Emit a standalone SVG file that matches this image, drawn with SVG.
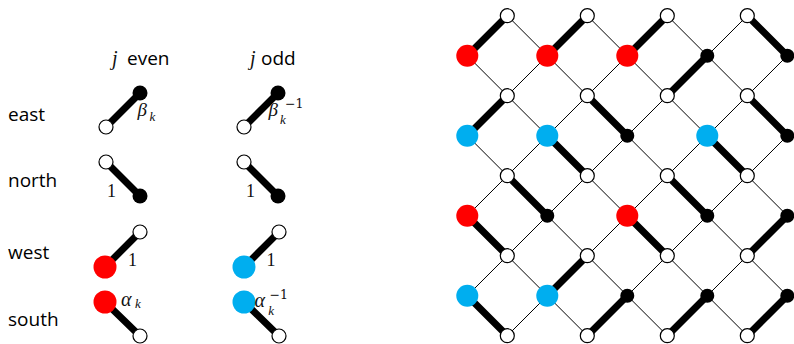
<svg xmlns="http://www.w3.org/2000/svg" width="794" height="344" viewBox="0 0 794 344">
<style>
.thin{stroke:#000;stroke-width:1;fill:none}
.thick{stroke:#000;stroke-width:7;stroke-linecap:round;fill:none}
.w{fill:#fff;stroke:#000;stroke-width:1.2}
.b{fill:#000}
.r{fill:#ff0000}
.c{fill:#00aeef}
.lbl{font-family:"Open Sans","DejaVu Sans",sans-serif;font-size:19px;fill:#000}
.m{font-family:"Liberation Serif","DejaVu Serif",serif;font-style:italic;fill:#111}
.n{font-family:"Liberation Serif","DejaVu Serif",serif;fill:#111}
.sup{font-family:"DejaVu Serif","Liberation Serif",serif;font-size:12.5px;fill:#111}
</style>
<rect width="794" height="344" fill="#fff"/>

<!-- headings and row labels -->
<g id="headings">
<text class="m" x="112" y="65" font-size="20">j</text><text class="lbl" x="127" y="65" font-size="19.5">even</text>
<text class="m" x="250" y="65" font-size="20">j</text><text class="lbl" x="261" y="65" font-size="19.5">odd</text>
<text class="lbl" x="8" y="121">east</text>
<text class="lbl" x="8" y="187">north</text>
<text class="lbl" x="8" y="259">west</text>
<text class="lbl" x="8" y="326">south</text>
</g>

<!-- legend glyphs -->
<g id="east-even">
<line class="thick" x1="106" y1="127" x2="140" y2="93"/>
<circle class="w" cx="106" cy="127" r="7"/><circle class="b" cx="140" cy="93" r="7.5"/>
<text class="m" x="137.5" y="116" font-size="19">β</text><text class="m" x="149.5" y="120.5" font-size="13">k</text>
</g>
<g id="east-odd">
<line class="thick" x1="244" y1="127" x2="278" y2="93"/>
<circle class="w" cx="244" cy="127" r="7"/><circle class="b" cx="278" cy="93" r="7.5"/>
<text class="m" x="268.5" y="116" font-size="19">β</text><text class="m" x="280" y="124" font-size="13">k</text><text class="sup" x="285" y="108.3">−1</text>
</g>
<g id="north-even">
<line class="thick" x1="106" y1="162" x2="140" y2="196"/>
<circle class="w" cx="106" cy="162" r="7"/><circle class="b" cx="140" cy="196" r="7.5"/>
<text class="n" x="111.5" y="197" font-size="18" text-anchor="middle">1</text>
</g>
<g id="north-odd">
<line class="thick" x1="244" y1="162" x2="278" y2="196"/>
<circle class="w" cx="244" cy="162" r="7"/><circle class="b" cx="278" cy="196" r="7.5"/>
<text class="n" x="250.5" y="197" font-size="18" text-anchor="middle">1</text>
</g>
<g id="west-even">
<line class="thick" x1="105" y1="267" x2="140" y2="232"/>
<circle class="w" cx="140" cy="232" r="7"/><circle class="r" cx="105" cy="267" r="11.5"/>
<text class="n" x="132.5" y="266" font-size="18" text-anchor="middle">1</text>
</g>
<g id="west-odd">
<line class="thick" x1="244" y1="267" x2="279" y2="232"/>
<circle class="w" cx="279" cy="232" r="7"/><circle class="c" cx="244" cy="267" r="11.5"/>
<text class="n" x="271" y="266" font-size="18" text-anchor="middle">1</text>
</g>
<g id="south-even">
<line class="thick" x1="105" y1="302" x2="140" y2="336"/>
<circle class="w" cx="140" cy="336" r="7"/><circle class="r" cx="105" cy="302" r="11.5"/>
<text class="m" x="121" y="306" font-size="20">α</text><text class="m" x="135" y="308" font-size="13">k</text>
</g>
<g id="south-odd">
<line class="thick" x1="244" y1="302" x2="279" y2="336"/>
<circle class="w" cx="279" cy="336" r="7"/><circle class="c" cx="244" cy="302" r="11.5"/>
<text class="m" x="254.5" y="307.3" font-size="20">α</text><text class="m" x="268.3" y="314.5" font-size="13">k</text><text class="sup" x="269.5" y="299.3">−1</text>
</g>

<!-- grid -->
<g transform="translate(467.3,15.7)">
<g id="connectors">
<path class="thin" d="M280 0L320 40M200 0L320 120M120 0L320 200M40 0L320 280M0 40L280 320M0 120L200 320M0 200L120 320M0 280L40 320M40 0L0 40M120 0L0 120M200 0L0 200M280 0L0 280M320 40L40 320M320 120L120 320M320 200L200 320M320 280L280 320"/>
<path class="thick" d="M0 40L40 0M80 40L120 0M160 40L200 0M240 40L200 80M320 40L280 0M0 120L40 80M80 120L120 160M160 120L120 80M240 120L280 160M320 120L280 80M0 200L40 240M80 200L40 160M160 200L200 240M240 200L200 160M320 200L280 240M0 280L40 320M80 280L120 240M160 280L120 320M240 280L200 320M320 280L280 320"/>
</g>
<g id="whites">
<g id="w-1-0"><circle class="w" cx="40" cy="0" r="7"/></g>
<g id="w-3-0"><circle class="w" cx="120" cy="0" r="7"/></g>
<g id="w-5-0"><circle class="w" cx="200" cy="0" r="7"/></g>
<g id="w-7-0"><circle class="w" cx="280" cy="0" r="7"/></g>
<g id="w-1-2"><circle class="w" cx="40" cy="80" r="7"/></g>
<g id="w-3-2"><circle class="w" cx="120" cy="80" r="7"/></g>
<g id="w-5-2"><circle class="w" cx="200" cy="80" r="7"/></g>
<g id="w-7-2"><circle class="w" cx="280" cy="80" r="7"/></g>
<g id="w-1-4"><circle class="w" cx="40" cy="160" r="7"/></g>
<g id="w-3-4"><circle class="w" cx="120" cy="160" r="7"/></g>
<g id="w-5-4"><circle class="w" cx="200" cy="160" r="7"/></g>
<g id="w-7-4"><circle class="w" cx="280" cy="160" r="7"/></g>
<g id="w-1-6"><circle class="w" cx="40" cy="240" r="7"/></g>
<g id="w-3-6"><circle class="w" cx="120" cy="240" r="7"/></g>
<g id="w-5-6"><circle class="w" cx="200" cy="240" r="7"/></g>
<g id="w-7-6"><circle class="w" cx="280" cy="240" r="7"/></g>
<g id="w-1-8"><circle class="w" cx="40" cy="320" r="7"/></g>
<g id="w-3-8"><circle class="w" cx="120" cy="320" r="7"/></g>
<g id="w-5-8"><circle class="w" cx="200" cy="320" r="7"/></g>
<g id="w-7-8"><circle class="w" cx="280" cy="320" r="7"/></g>
</g>
<g id="faces">
<g id="n-0-1"><circle class="r" cx="0" cy="40" r="11"/></g>
<g id="n-2-1"><circle class="r" cx="80" cy="40" r="11"/></g>
<g id="n-4-1"><circle class="r" cx="160" cy="40" r="11"/></g>
<g id="n-6-1"><circle class="b" cx="240" cy="40" r="7"/></g>
<g id="n-8-1"><circle class="b" cx="320" cy="40" r="7"/></g>
<g id="n-0-3"><circle class="c" cx="0" cy="120" r="11"/></g>
<g id="n-2-3"><circle class="c" cx="80" cy="120" r="11"/></g>
<g id="n-4-3"><circle class="b" cx="160" cy="120" r="7"/></g>
<g id="n-6-3"><circle class="c" cx="240" cy="120" r="11"/></g>
<g id="n-8-3"><circle class="b" cx="320" cy="120" r="7"/></g>
<g id="n-0-5"><circle class="r" cx="0" cy="200" r="11"/></g>
<g id="n-2-5"><circle class="b" cx="80" cy="200" r="7"/></g>
<g id="n-4-5"><circle class="r" cx="160" cy="200" r="11"/></g>
<g id="n-6-5"><circle class="b" cx="240" cy="200" r="7"/></g>
<g id="n-8-5"><circle class="b" cx="320" cy="200" r="7"/></g>
<g id="n-0-7"><circle class="c" cx="0" cy="280" r="11"/></g>
<g id="n-2-7"><circle class="c" cx="80" cy="280" r="11"/></g>
<g id="n-4-7"><circle class="b" cx="160" cy="280" r="7"/></g>
<g id="n-6-7"><circle class="b" cx="240" cy="280" r="7"/></g>
<g id="n-8-7"><circle class="b" cx="320" cy="280" r="7"/></g>
</g>
</g>
</svg>
